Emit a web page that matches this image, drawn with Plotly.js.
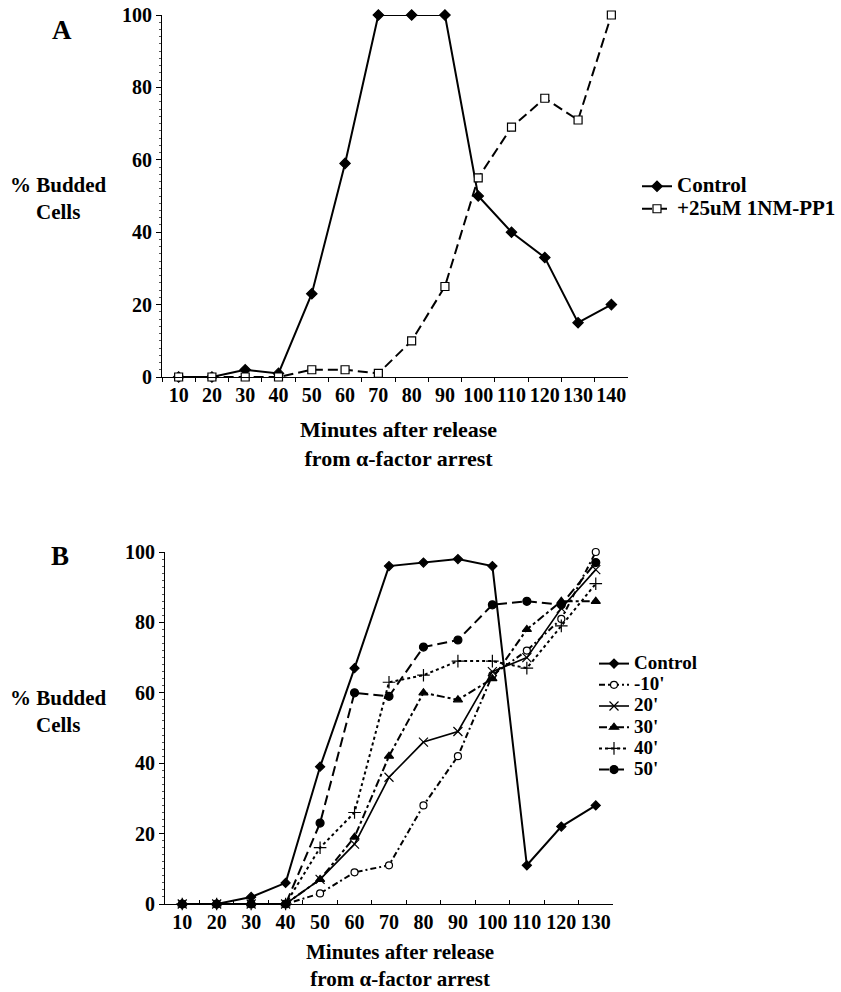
<!DOCTYPE html>
<html>
<head>
<meta charset="utf-8">
<script src="https://cdn.plot.ly/plotly-3.0.1.min.js"></script>
<style>html,body{margin:0;padding:0;background:#fff;}#chart{width:841px;height:992px;}</style>
</head>
<body>
<div id="chart"></div>
<script>
// Panel A
const catsA = ['10','20','30','40','50','60','70','80','90','100','110','120','130','140'];
const controlA = [0, 0, 2, 1, 23, 59, 100, 100, 100, 50, 40, 33, 15, 20];
const nmppA = [0, 0, 0, 0, 2, 2, 1, 10, 25, 55, 69, 77, 71, 100];
const namesA = ['Control', '+25uM 1NM-PP1'];

// Panel B
const catsB = ['10','20','30','40','50','60','70','80','90','100','110','120','130'];
const controlB = [0, 0, 2, 6, 39, 67, 96, 97, 98, 96, 11, 22, 28];
const m10B = [0, 0, 0, 0, 3, 9, 11, 28, 42, 65, 72, 81, 100];
const m20B = [0, 0, 0, 0, 7, 17, 36, 46, 49, 66, 70, 84, 95];
const m30B = [0, 0, 0, 0, 7, 19, 42, 60, 58, 64, 78, 86, 86];
const m40B = [0, 0, 0, 0, 16, 26, 63, 65, 69, 69, 67, 79, 91];
const m50B = [0, 0, 0, 0, 23, 60, 59, 73, 75, 85, 86, 85, 97];
const namesB = ['Control', "-10'", "20'", "30'", "40'", "50'"];

const yTicks = [0, 20, 40, 60, 80, 100];

const W = 841, H = 992;
const px = v => v / W;
const py = v => 1 - v / H;
const FONT = 'Liberation Serif, Times New Roman, serif';
const bold = (size) => ({family: FONT, size: size, color: '#000', weight: 'bold'});
const big = (name, size) => '<span style="font-size:' + size + 'px">' + name + '</span>';

function tr(x, y, name, xa, ya, legend, dash, symbol, msize, fill, width) {
  return {
    type: 'scatter', mode: 'lines+markers', x: x, y: y, name: name,
    xaxis: xa, yaxis: ya, legend: legend, cliponaxis: false,
    line: {color: '#000', width: width || 2, dash: dash},
    marker: {symbol: symbol, size: msize, color: fill,
             line: {color: '#000', width: 1.2}}
  };
}

const data = [
  tr(catsA, controlA, big(namesA[0], 21), 'x', 'y', 'legend', 'solid', 'diamond', 8, '#000'),
  tr(catsA, nmppA, big(namesA[1], 21), 'x', 'y', 'legend', '10px,5px', 'square', 8, '#fff'),
  tr(catsB, controlB, big(namesB[0], 19), 'x2', 'y2', 'legend2', 'solid', 'diamond', 7, '#000'),
  tr(catsB, m10B, big(namesB[1], 19), 'x2', 'y2', 'legend2', '6px,3px,2px,3px', 'circle', 7, '#fff'),
  tr(catsB, m20B, big(namesB[2], 19), 'x2', 'y2', 'legend2', 'solid', 'x-thin-open', 9, '#000', 1.6),
  tr(catsB, m30B, big(namesB[3], 19), 'x2', 'y2', 'legend2', '8px,3px,3px,3px', 'triangle-up', 8, '#000'),
  tr(catsB, m40B, big(namesB[4], 19), 'x2', 'y2', 'legend2', '3px,3px', 'cross-thin-open', 9, '#000'),
  tr(catsB, m50B, big(namesB[5], 19), 'x2', 'y2', 'legend2', '10px,5px', 'circle', 8, '#000')
];

function xax(domain, n, anchor, tickdir) {
  return {
    domain: domain, anchor: anchor, type: 'category', range: [-0.5, n - 0.5],
    showline: true, linecolor: '#000', linewidth: 1, showgrid: false, zeroline: false,
    ticks: tickdir, ticklen: 4, tickcolor: '#000', tickson: 'boundaries',
    tickangle: 0, tickfont: bold(20), fixedrange: true
  };
}
function yax(domain, anchor) {
  return {
    domain: domain, anchor: anchor, range: [0, 100], tickvals: yTicks,
    showline: true, linecolor: '#000', linewidth: 1, showgrid: false, zeroline: false,
    ticks: 'outside', ticklen: 5, tickcolor: '#000', tickfont: bold(20),
    minor: {ticks: 'outside', ticklen: 2, dtick: 2, tickcolor: '#555', showgrid: false},
    fixedrange: true
  };
}

const ann = (text, x, y, size) => ({
  text: text, xref: 'paper', yref: 'paper', x: px(x), y: py(y),
  xanchor: 'center', yanchor: 'middle', showarrow: false, font: bold(size), align: 'center'
});

const layout = {
  width: W, height: H, margin: {l: 0, r: 0, t: 0, b: 0},
  paper_bgcolor: '#fff', plot_bgcolor: '#fff', font: bold(18),
  xaxis: xax([px(162), px(628)], catsA.length, 'y', 'outside'),
  yaxis: yax([py(377), py(15)], 'x'),
  xaxis2: xax([px(165), px(613)], catsB.length, 'y2', 'inside'),
  yaxis2: yax([py(904), py(552)], 'x2'),
  legend: {x: px(637), y: py(170), xanchor: 'left', yanchor: 'top', font: bold(15),
           bgcolor: 'rgba(0,0,0,0)', itemwidth: 30, tracegroupgap: 0},
  legend2: {x: px(594), y: py(648), xanchor: 'left', yanchor: 'top', font: bold(14),
            bgcolor: 'rgba(0,0,0,0)', itemwidth: 30, tracegroupgap: 0},
  showlegend: true,
  annotations: [
    ann('A', 62, 30, 27),
    ann('B', 60, 556, 27),
    ann('% Budded<br>Cells', 58, 198, 21),
    ann('% Budded<br>Cells', 58, 711, 21),
    ann('Minutes after release<br>from α-factor arrest', 398, 444, 22),
    ann('Minutes after release<br>from α-factor arrest', 400, 965, 21)
  ]
};

Plotly.newPlot('chart', data, layout, {displayModeBar: false, staticPlot: true});
</script>
</body>
</html>
